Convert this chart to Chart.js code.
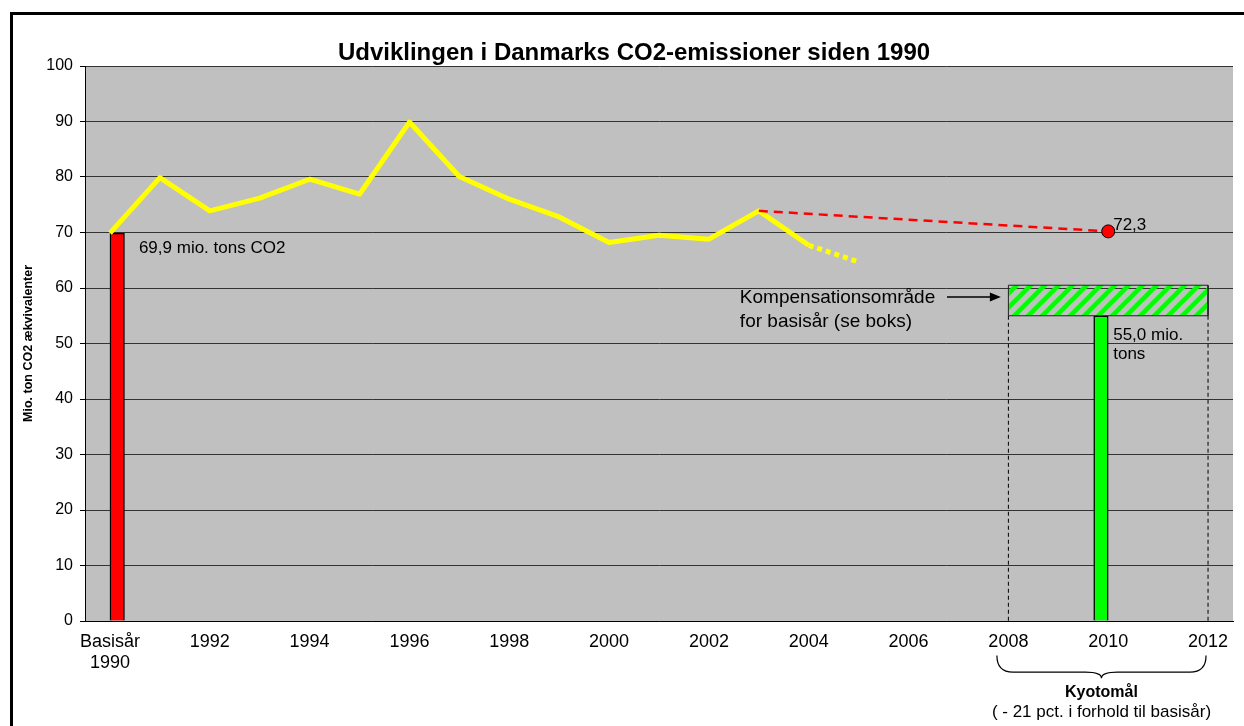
<!DOCTYPE html>
<html>
<head>
<meta charset="utf-8">
<script src="https://cdn.jsdelivr.net/npm/chart.js@4.4.1/dist/chart.umd.min.js"></script>
<style>
html, body { margin: 0; padding: 0; background: #fff; }
#wrap { position: relative; width: 1244px; height: 726px; overflow: hidden; }
#frame { position: absolute; left: 10px; top: 12px; width: 1300px; height: 800px;
         border-left: 3px solid #000; border-top: 3px solid #000; }
canvas { position: absolute; left: 0; top: 0; }
</style>
</head>
<body>
<div id="wrap">
  <div id="frame"></div>
  <canvas id="co2" width="1244" height="726"></canvas>
</div>
<script>
// categories (years on the x axis)
const years = ['1990', '1991', '1992', '1993', '1994', '1995', '1996', '1997', '1998', '1999', '2000',
               '2001', '2002', '2003', '2004', '2005', '2006', '2007', '2008', '2009', '2010', '2011', '2012'];
const tickLabels = [['Basisår', '1990'], '', '1992', '', '1994', '', '1996', '', '1998', '', '2000',
                    '', '2002', '', '2004', '', '2006', '', '2008', '', '2010', '', '2012'];

// actual emissions 1990-2004, last point (2005) is the dotted estimate
const emissions = [69.9, 79.9, 73.9, 76.2, 79.6, 76.9, 89.9, 80.1, 76.0, 72.8, 68.2, 69.5, 68.8, 73.9, 67.7, 64.7];

// projection line 2003 -> 2010
const projYears = ['2003', '2010'];
const projValues = [73.9, 70.2];

// base year bar and Kyoto target bar
const baseYear = '1990';
const baseValue = 69.9;
const kyotoYear = '2010';
const kyotoValue = 55.0;

// compensation band and Kyoto period
const kyotoPeriod = [2008, 2012];
const compBand = [55.0, 60.5];

const yTicks = [0, 10, 20, 30, 40, 50, 60, 70, 80, 90, 100];

const FONT = '"Liberation Sans", Arial, sans-serif';

// green diagonal stripes for the compensation box
function stripePattern() {
    const c = document.createElement('canvas');
    c.width = 14; c.height = 14;
    const g = c.getContext('2d');
    g.strokeStyle = '#00FF00';
    g.lineWidth = 4.5;
    g.beginPath();
    g.moveTo(-2, 16); g.lineTo(16, -2);
    g.moveTo(-9, 9); g.lineTo(9, -9);
    g.moveTo(5, 23); g.lineTo(23, 5);
    g.stroke();
    return g.createPattern(c, 'repeat');
}

const ctx = document.getElementById('co2').getContext('2d');

const decor = {
    id: 'decor',
    beforeDraw(chart) {
        const a = chart.chartArea, c = chart.ctx;
        c.save();
        c.fillStyle = '#C0C0C0';
        c.fillRect(a.left, a.top, a.right - a.left, a.bottom - a.top);
        c.restore();
    },
    afterDraw(chart) {
        const c = chart.ctx;
        const X = v => chart.scales.xl.getPixelForValue(v);
        const Y = v => chart.scales.y.getPixelForValue(v);
        c.save();
        c.fillStyle = '#000';
        c.strokeStyle = '#000';

        // title
        c.font = 'bold 24px ' + FONT;
        c.textAlign = 'center';
        c.textBaseline = 'middle';
        c.fillText('Udviklingen i Danmarks CO2-emissioner siden 1990', 634, 53);

        // y axis title
        c.save();
        c.translate(29, (chart.chartArea.top + chart.chartArea.bottom) / 2);
        c.rotate(-Math.PI / 2);
        c.font = 'bold 12.5px ' + FONT;
        c.fillText('Mio. ton CO2 ækvivalenter', 0, 0);
        c.restore();

        // labels inside the plot
        c.font = '17px ' + FONT;
        c.textAlign = 'left';
        c.fillText('69,9 mio. tons CO2', X(1990.58), Y(67.2));
        c.fillText('72,3', X(2010.1), Y(71.3));
        c.fillText('55,0 mio.', X(2010.1), Y(51.4));
        c.fillText('tons', X(2010.1), Y(48.1));
        c.font = '19px ' + FONT;
        c.fillText('Kompensationsområde', X(2002.62), Y(58.2));
        c.fillText('for basisår (se boks)', X(2002.62), Y(54.0));

        // arrow to the box
        const ay = Y(58.4), ax0 = X(2006.77), ax1 = X(2007.85);
        c.lineWidth = 1.5;
        c.beginPath();
        c.moveTo(ax0, ay); c.lineTo(ax1 - 9, ay);
        c.stroke();
        c.beginPath();
        c.moveTo(ax1, ay); c.lineTo(ax1 - 11, ay - 4.5); c.lineTo(ax1 - 11, ay + 4.5);
        c.closePath(); c.fill();

        // brace under the Kyoto period
        const x0 = X(2007.77), x1 = X(2011.96), xm = (x0 + x1) / 2;
        const y0 = Y(-6.2), y1 = Y(-9.2), y2 = Y(-10.3), r = 16;
        c.lineWidth = 1.2;
        c.beginPath();
        c.moveTo(x0, y0);
        c.quadraticCurveTo(x0, y1, x0 + r, y1);
        c.lineTo(xm - r, y1);
        c.quadraticCurveTo(xm, y1, xm, y2);
        c.quadraticCurveTo(xm, y1, xm + r, y1);
        c.lineTo(x1 - r, y1);
        c.quadraticCurveTo(x1, y1, x1, y0);
        c.stroke();

        c.textAlign = 'center';
        c.font = 'bold 16px ' + FONT;
        c.fillText('Kyotomål', xm, Y(-12.9));
        c.font = '17px ' + FONT;
        c.fillText('( - 21 pct. i forhold til basisår)', xm, Y(-16.5));
        c.restore();
    }
};

// lines first so they are drawn on top of the bars
new Chart(ctx, {
    type: 'bar',
    data: {
        labels: years,
        datasets: [{
            type: 'line',
            label: 'Fremskrivning',
            xAxisID: 'xl',
            data: projYears.map((y, i) => ({ x: Number(y), y: projValues[i] })),
            borderColor: '#FF0000',
            borderWidth: 2.5,
            borderDash: [9, 6],
            pointRadius: [0, 6.5],
            pointBackgroundColor: '#FF0000',
            pointBorderColor: '#000',
            pointBorderWidth: 1
        }, {
            type: 'line',
            label: 'Udledning',
            xAxisID: 'xl',
            data: emissions.map((v, i) => ({ x: Number(years[i]), y: v })),
            borderColor: '#FFFF00',
            borderWidth: 5,
            borderJoinStyle: 'round',
            pointRadius: 0,
            tension: 0,
            segment: {
                borderDash: s => s.p0DataIndex >= emissions.length - 2 ? [5, 4] : undefined
            }
        }, {
            type: 'line',
            label: 'Kompensationsområde',
            xAxisID: 'xl',
            data: [
                { x: kyotoPeriod[0], y: compBand[1] }, { x: kyotoPeriod[1], y: compBand[1] },
                { x: kyotoPeriod[1], y: compBand[0] }, { x: kyotoPeriod[0], y: compBand[0] },
                { x: kyotoPeriod[0], y: compBand[1] }
            ],
            borderColor: '#222',
            borderWidth: 1,
            backgroundColor: stripePattern(),
            fill: 'shape',
            pointRadius: 0
        }, {
            type: 'line',
            label: 'start',
            xAxisID: 'xl',
            data: [{ x: kyotoPeriod[0], y: compBand[0] }, { x: kyotoPeriod[0], y: 0 }],
            borderColor: '#000',
            borderWidth: 1,
            borderDash: [4, 3],
            pointRadius: 0
        }, {
            type: 'line',
            label: 'slut',
            xAxisID: 'xl',
            data: [{ x: kyotoPeriod[1], y: compBand[0] }, { x: kyotoPeriod[1], y: 0 }],
            borderColor: '#000',
            borderWidth: 1,
            borderDash: [4, 3],
            pointRadius: 0
        }, {
            label: 'Kyotomål',
            data: years.map(y => y === kyotoYear ? kyotoValue : null),
            backgroundColor: '#00FF00',
            borderColor: '#000',
            borderWidth: 1.5,
            barThickness: 14.5,
            stack: 'a'
        }, {
            label: 'Basisår',
            data: years.map(y => y === baseYear ? baseValue : null),
            backgroundColor: '#FF0000',
            borderColor: '#000',
            borderWidth: 1.5,
            barThickness: 14.5,
            stack: 'b'
        }]
    },
    options: {
        responsive: false,
        animation: false,
        devicePixelRatio: 1,
        layout: { padding: { top: 66, right: 11, left: 0, bottom: 0 } },
        plugins: {
            legend: { display: false },
            tooltip: { enabled: false }
        },
        scales: {
            x: {
                type: 'category',
                offset: true,
                grid: { display: false, drawTicks: false },
                border: { display: true, color: '#000', width: 1 },
                ticks: {
                    autoSkip: false,
                    maxRotation: 0,
                    padding: 10,
                    color: '#000',
                    font: { family: FONT, size: 18 },
                    callback: (v, i) => tickLabels[i]
                },
                afterFit: s => { s.height = 105; }
            },
            xl: {
                type: 'linear',
                display: false,
                offset: false,
                bounds: 'data',
                min: Number(years[0]) - 0.5,
                max: Number(years[years.length - 1]) + 0.5
            },
            y: {
                min: yTicks[0],
                max: yTicks[yTicks.length - 1],
                afterBuildTicks: s => { s.ticks = yTicks.map(v => ({ value: v })); },
                grid: { color: '#333', lineWidth: 1, tickLength: 5, tickColor: '#000' },
                border: { display: true, color: '#000', width: 1 },
                ticks: {
                    padding: 7,
                    color: '#000',
                    font: { family: FONT, size: 16 }
                },
                afterFit: s => { s.width = 85; }
            }
        }
    },
    plugins: [decor]
});
</script>
</body>
</html>
